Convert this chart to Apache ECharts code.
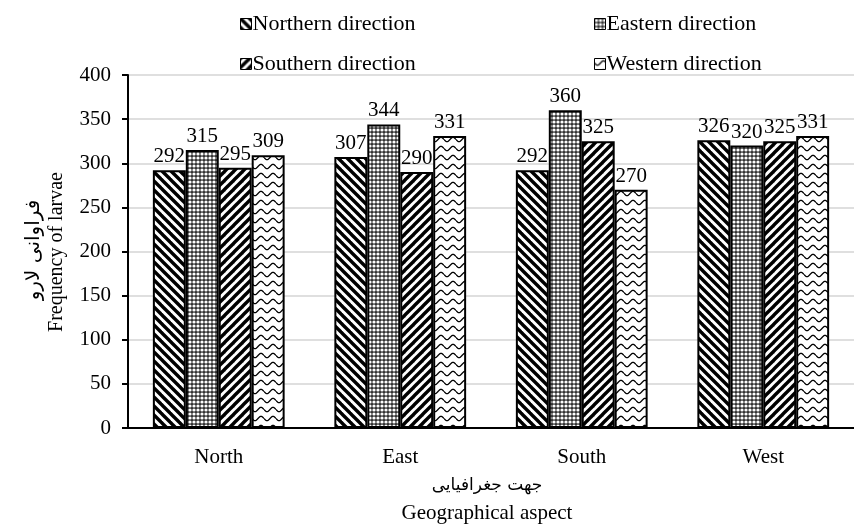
<!DOCTYPE html>
<html>
<head>
<meta charset="utf-8">
<script src="https://cdn.jsdelivr.net/npm/echarts@6/dist/echarts.min.js"></script>
<style>
  html, body { margin: 0; padding: 0; background: #fff; }
  #chart { width: 854px; height: 527px; }
</style>
</head>
<body>
<div id="chart"></div>
<script>
// Geographical aspects on the x axis
const aspects = ['North', 'East', 'South', 'West'];

// Larvae counts per sampling direction (one value per aspect)
const northernDir = [292, 307, 292, 326];
const easternDir  = [315, 344, 360, 320];
const southernDir = [295, 290, 325, 325];
const westernDir  = [309, 331, 270, 331];

const seriesNames = ['Northern direction', 'Eastern direction', 'Southern direction', 'Western direction'];

// y-axis ticks
const yTicks = [0, 50, 100, 150, 200, 250, 300, 350, 400];

const SERIF = "'Liberation Serif', 'Times New Roman', serif";
const ARABIC = "'DejaVu Sans', sans-serif";

// ---- fill patterns (black on white) ----
function tile(w, h, draw) {
  const c = document.createElement('canvas');
  c.width = w; c.height = h;
  const g = c.getContext('2d');
  g.fillStyle = '#fff';
  g.fillRect(0, 0, w, h);
  g.fillStyle = '#000';
  g.strokeStyle = '#000';
  draw(g, w, h);
  return { image: c, repeat: 'repeat' };
}

// wide downward diagonal  \\\\
const patDown = tile(9, 9, (g, w, h) => {
  g.lineWidth = 3.4;
  for (let k = -1; k <= 1; k++) {
    g.beginPath();
    g.moveTo(k * w - 2, -2);
    g.lineTo(k * w + w + 2, h + 2);
    g.stroke();
  }
});

// wide upward diagonal  ////
const patUp = tile(9, 9, (g, w, h) => {
  g.lineWidth = 3.4;
  for (let k = -1; k <= 1; k++) {
    g.beginPath();
    g.moveTo(k * w - 2, h + 2);
    g.lineTo(k * w + w + 2, -2);
    g.stroke();
  }
});

// fine lattice of small round openings
const patLattice = tile(4, 4, (g, w, h) => {
  g.fillStyle = '#333';
  g.fillRect(0, 0, w, h);
  g.fillStyle = '#fff';
  g.beginPath();
  g.arc(2, 2, 1.6, 0, Math.PI * 2);
  g.fill();
});

// horizontal waves
const patWave = tile(12, 9, (g, w, h) => {
  g.lineWidth = 1.3;
  g.beginPath();
  for (let x = 0; x <= w; x += 0.5) {
    const y = 4.5 + 2.2 * Math.sin((x / w) * Math.PI * 2);
    if (x === 0) g.moveTo(x, y); else g.lineTo(x, y);
  }
  g.stroke();
});

const patterns = [patDown, patLattice, patUp, patWave];
const values = [northernDir, easternDir, southernDir, westernDir];

const series = seriesNames.map((name, i) => ({
  name: name,
  type: 'bar',
  data: values[i],
  barGap: '0%',
  barCategoryGap: '27.4%',
  itemStyle: { color: patterns[i], borderColor: '#000', borderWidth: 2 },
  label: {
    show: true,
    position: 'top',
    distance: 3,
    color: '#000',
    fontFamily: SERIF,
    fontSize: 21
  }
}));

// one legend box per entry, laid out in a 2 x 2 block
const legendPos = [
  { left: 235, top: 8 },
  { left: 589, top: 8 },
  { left: 235, top: 48 },
  { left: 589, top: 48 }
];
const legends = seriesNames.map((name, i) => ({
  data: [name],
  left: legendPos[i].left,
  top: legendPos[i].top,
  selectedMode: false,
  icon: 'rect',
  itemWidth: 11,
  itemHeight: 11,
  itemGap: 0,
  textStyle: { fontFamily: SERIF, fontSize: 22, color: '#000', padding: [0, 0, 0, -4] },
  itemStyle: { borderColor: '#000', borderWidth: 1 }
}));

const chart = echarts.init(document.getElementById('chart'), null, { renderer: 'canvas' });

chart.setOption({
  animation: false,
  backgroundColor: '#fff',
  legend: legends,
  grid: { left: 128, top: 75, width: 736, height: 353, containLabel: false },
  xAxis: {
    type: 'category',
    data: aspects,
    axisLine: { lineStyle: { color: '#000', width: 2 } },
    axisTick: { show: false },
    axisLabel: { color: '#000', fontFamily: SERIF, fontSize: 21, margin: 19 }
  },
  yAxis: {
    type: 'value',
    min: yTicks[0],
    max: yTicks[yTicks.length - 1],
    interval: yTicks[1] - yTicks[0],
    axisLine: { show: true, lineStyle: { color: '#000', width: 2 } },
    axisTick: { show: true, inside: false, length: 6, lineStyle: { color: '#000', width: 2 } },
    axisLabel: { color: '#000', fontFamily: SERIF, fontSize: 21, margin: 17 },
    splitLine: { show: true, lineStyle: { color: '#d4d4d4', width: 1.5 } }
  },
  graphic: [
    {
      type: 'text',
      x: 34, y: 250,
      rotation: Math.PI / 2,
      style: { text: 'فراوانی لارو', fontFamily: ARABIC, fontSize: 20, fill: '#000', align: 'center', verticalAlign: 'middle' }
    },
    {
      type: 'text',
      x: 57, y: 252,
      rotation: Math.PI / 2,
      style: { text: 'Frequency of larvae', fontFamily: SERIF, fontSize: 20, fill: '#000', align: 'center', verticalAlign: 'middle' }
    },
    {
      type: 'text',
      x: 487, y: 486,
      style: { text: 'جهت جغرافیایی', fontFamily: ARABIC, fontSize: 17, fill: '#000', align: 'center', verticalAlign: 'middle' }
    },
    {
      type: 'text',
      x: 487, y: 513,
      style: { text: 'Geographical aspect', fontFamily: SERIF, fontSize: 21, fill: '#000', align: 'center', verticalAlign: 'middle' }
    }
  ],
  series: series
});
</script>
</body>
</html>
